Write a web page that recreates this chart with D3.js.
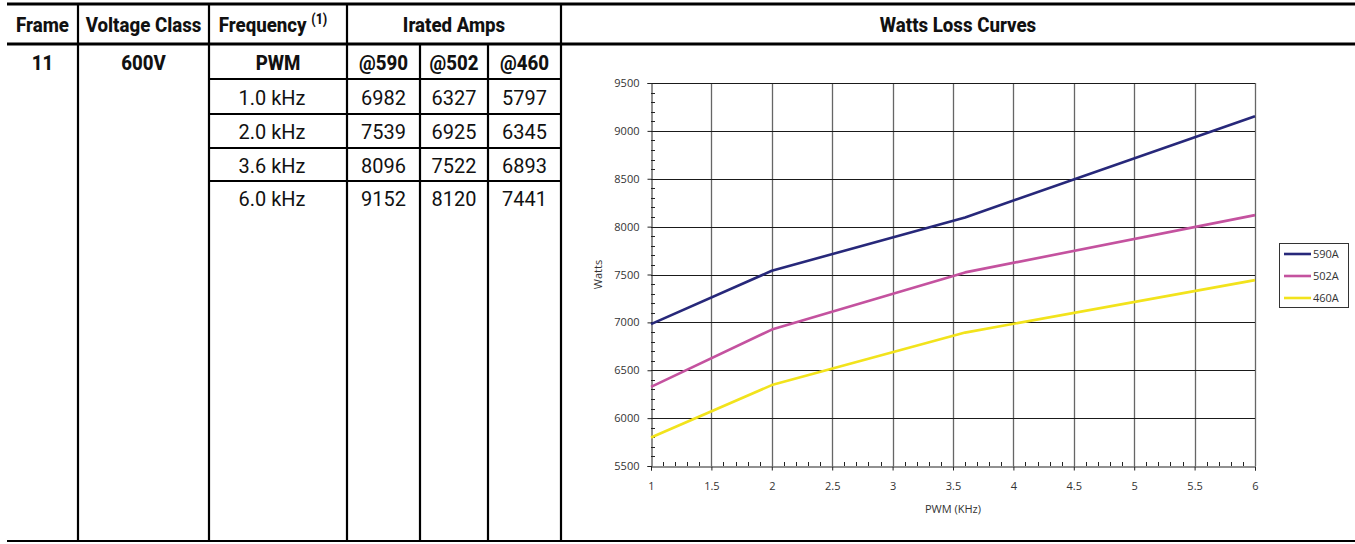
<!DOCTYPE html>
<html>
<head>
<meta charset="utf-8">
<script src="https://cdn.jsdelivr.net/npm/d3@7"></script>
<style>
  html, body { margin: 0; padding: 0; background: #fff; }
  svg { display: block; }
  .tbl { font-family: Roboto, "Noto Sans", sans-serif; fill: #111; }
  .axis { font-family: "Open Sans", "Noto Sans", sans-serif; font-size: 11px; fill: #333; }
</style>
</head>
<body>
<svg id="chart" width="1355" height="544"></svg>
<script>
// ---- data ----
const frameLabel = "11";
const voltageLabel = "600V";
const frequencyLabels = ["1.0 kHz", "2.0 kHz", "3.6 kHz", "6.0 kHz"];
const pwmKHz = [1, 2, 3.6, 6];
const ampHeaders = ["@590", "@502", "@460"];
const watts590 = [6982, 7539, 8096, 9152];
const watts502 = [6327, 6925, 7522, 8120];
const watts460 = [5797, 6345, 6893, 7441];
const seriesNames = ["590A", "502A", "460A"];
const seriesColors = ["#27287a", "#c4529f", "#f2e31c"];
const yTickValues = [5500, 6000, 6500, 7000, 7500, 8000, 8500, 9000, 9500];
const xTickValues = [1, 1.5, 2, 2.5, 3, 3.5, 4, 4.5, 5, 5.5, 6];

const seriesValues = [watts590, watts502, watts460];

const svg = d3.select("#chart");

// ---- table frame ----
const colX = [7, 78, 209, 347, 420, 488, 561, 1355];
const headY = 44, subY = 79;
const rowLines = [114, 148, 181];
const bottomY = 541;

const lines = svg.append("g").attr("stroke", "#000");
// top and header rules
lines.append("line").attr("x1", colX[0]).attr("x2", 1355).attr("y1", 4).attr("y2", 4).attr("stroke-width", 3);
lines.append("line").attr("x1", colX[0]).attr("x2", 1355).attr("y1", headY).attr("y2", headY).attr("stroke-width", 3);
lines.append("line").attr("x1", colX[0]).attr("x2", 1355).attr("y1", bottomY).attr("y2", bottomY).attr("stroke-width", 2);
// column dividers
[colX[1], colX[2], colX[3], colX[6]].forEach(x => {
  lines.append("line").attr("x1", x).attr("x2", x).attr("y1", 4).attr("y2", bottomY).attr("stroke-width", 2.2);
});
[colX[4], colX[5]].forEach(x => {
  lines.append("line").attr("x1", x).attr("x2", x).attr("y1", headY).attr("y2", bottomY).attr("stroke-width", 2.2);
});
// row rules inside the frequency / amps block
[subY, ...rowLines].forEach(y => {
  lines.append("line").attr("x1", colX[2]).attr("x2", colX[6]).attr("y1", y).attr("y2", y).attr("stroke-width", 2);
});

const mid = (a, b) => (a + b) / 2;
const txt = svg.append("g").attr("class", "tbl").attr("text-anchor", "middle");

// condensed table text: glyphs are narrowed horizontally around the cell centre
function cell(x, y, s, weight, size, sx) {
  return txt.append("text")
    .attr("transform", `translate(${x},${y}) scale(${sx},1)`)
    .attr("dy", "0.36em")
    .attr("font-weight", weight).attr("font-size", size).text(s);
}

const HB = 0.89;  // bold header narrowing
const DR = 0.95;  // regular body narrowing

// header row
cell(mid(colX[0], colX[1]), 24, "Frame", 800, 21, HB);
cell(mid(colX[1], colX[2]), 24, "Voltage Class", 800, 21, HB);
const fq = cell(mid(colX[2], colX[3]) - 5, 24, "Frequency ", 800, 21, HB);
fq.append("tspan").attr("font-size", 14).attr("dy", "-0.55em").text("(1)");
cell(mid(colX[3], colX[6]), 24, "Irated Amps", 800, 21, HB);
cell(mid(colX[6], colX[7]), 24, "Watts Loss Curves", 800, 21, HB);

// second row
cell(mid(colX[0], colX[1]), 62, frameLabel, 800, 21, HB);
cell(mid(colX[1], colX[2]), 62, voltageLabel, 800, 21, HB);
cell(mid(colX[2], colX[3]), 62, "PWM", 800, 21, HB);
ampHeaders.forEach((h, i) => cell(mid(colX[3 + i], colX[4 + i]), 62, h, 800, 21, HB));

// data rows
const rowCenters = [97, 131, 165, 198];
frequencyLabels.forEach((f, r) => {
  cell(mid(colX[2], colX[3]) - 6, rowCenters[r], f, 400, 21, DR);
  seriesValues.forEach((vals, i) => {
    cell(mid(colX[3 + i], colX[4 + i]), rowCenters[r], String(vals[r]), 400, 21, DR);
  });
});

// ---- chart ----
const plot = { left: 651, right: 1255, top: 83, bottom: 466 };
const x = d3.scaleLinear().domain([1, 6]).range([plot.left, plot.right]);
const y = d3.scaleLinear().domain([5500, 9500]).range([plot.bottom, plot.top]);

const g = svg.append("g");

// vertical grid
g.append("g").selectAll("line").data(xTickValues.slice(1)).join("line")
  .attr("x1", d => Math.round(x(d)) + 0.5).attr("x2", d => Math.round(x(d)) + 0.5)
  .attr("y1", plot.top).attr("y2", plot.bottom)
  .attr("stroke", "#666").attr("stroke-width", 1.3);
// horizontal grid
g.append("g").selectAll("line").data(yTickValues.slice(1)).join("line")
  .attr("x1", plot.left).attr("x2", plot.right)
  .attr("y1", d => Math.round(y(d)) + 0.5).attr("y2", d => Math.round(y(d)) + 0.5)
  .attr("stroke", "#1a1a1a").attr("stroke-width", 1);

// y axis with major labels
const yAxis = d3.axisLeft(y).tickValues(yTickValues).tickSize(4).tickPadding(8).tickFormat(d3.format("d"));
const ya = g.append("g").attr("transform", `translate(${plot.left + 0.5},0)`).call(yAxis);
ya.select(".domain").attr("stroke", "#222");
ya.selectAll(".tick line").attr("stroke", "#222");
ya.selectAll("text").attr("class", "axis").attr("font-size", null).attr("font-family", null).attr("fill", null);
// y minor ticks (every 100) pointing inward
const yMinor = d3.range(5600, 9500, 100).filter(v => v % 500 !== 0);
g.append("g").selectAll("line").data(yMinor).join("line")
  .attr("x1", plot.left).attr("x2", plot.left + 4)
  .attr("y1", d => Math.round(y(d)) + 0.5).attr("y2", d => Math.round(y(d)) + 0.5)
  .attr("stroke", "#222");

// x axis with major labels
const xAxis = d3.axisBottom(x).tickValues(xTickValues).tickSize(4).tickPadding(12).tickFormat(d3.format("~g"));
const xa = g.append("g").attr("transform", `translate(0,${plot.bottom + 0.5})`).call(xAxis);
xa.select(".domain").attr("stroke", "#222");
xa.selectAll(".tick line").attr("stroke", "#222");
xa.selectAll("text").attr("class", "axis").attr("font-size", null).attr("font-family", null).attr("fill", null);
// x minor ticks (every 0.1) pointing inward
const xMinor = d3.range(11, 60, 1).filter(v => v % 5 !== 0).map(v => v / 10);
g.append("g").selectAll("line").data(xMinor).join("line")
  .attr("x1", d => Math.round(x(d)) + 0.5).attr("x2", d => Math.round(x(d)) + 0.5)
  .attr("y1", plot.bottom).attr("y2", plot.bottom - 4)
  .attr("stroke", "#222");

// axis titles
g.append("text").attr("class", "axis").attr("text-anchor", "middle")
  .attr("x", mid(plot.left, plot.right)).attr("y", 513).text("PWM (KHz)");
g.append("text").attr("class", "axis").attr("text-anchor", "middle")
  .attr("transform", `translate(602,${mid(plot.top, plot.bottom)}) rotate(-90)`).text("Watts");

// series lines
const line = d3.line().x(d => x(d[0])).y(d => y(d[1]));
seriesValues.forEach((vals, i) => {
  g.append("path")
    .datum(pwmKHz.map((k, j) => [k, vals[j]]))
    .attr("fill", "none").attr("stroke", seriesColors[i]).attr("stroke-width", 2.6)
    .attr("stroke-linejoin", "round").attr("d", line);
});

// legend
const lg = svg.append("g").attr("transform", "translate(1279,243)");
lg.append("rect").attr("x", 0.5).attr("y", 0.5).attr("width", 69).attr("height", 64)
  .attr("fill", "#fff").attr("stroke", "#333").attr("stroke-width", 1);
seriesNames.forEach((n, i) => {
  const cy = 11 + i * 22;
  lg.append("line").attr("x1", 5).attr("x2", 32).attr("y1", cy).attr("y2", cy)
    .attr("stroke", seriesColors[i]).attr("stroke-width", 2.6);
  lg.append("text").attr("class", "axis").attr("x", 34).attr("y", cy).attr("dy", "0.36em").text(n);
});
</script>
</body>
</html>
